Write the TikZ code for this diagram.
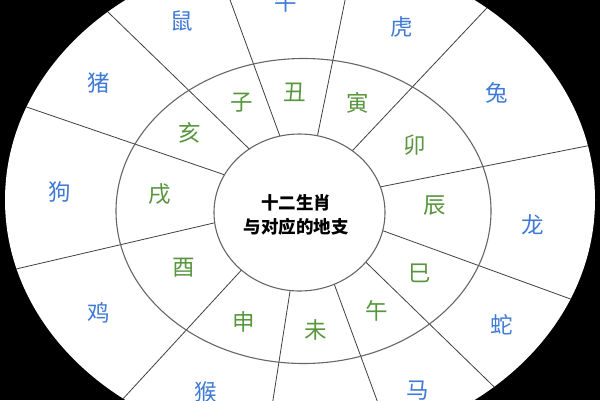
\documentclass[tikz,border=0pt]{standalone}
\usepackage{fontspec}
\newfontfamily\cjk{Noto Sans CJK SC}
\definecolor{zodblue}{RGB}{62,122,214}
\definecolor{zodgreen}{RGB}{88,150,62}
\begin{document}
\begin{tikzpicture}[x=1pt,y=-1pt,
    sign/.style={text=zodblue,font=\cjk\fontsize{22.5}{22.5}\selectfont,inner sep=0pt},
    branch/.style={text=zodgreen,font=\cjk\fontsize{22.5}{22.5}\selectfont,inner sep=0pt},
    spoke/.style={draw=black!75,line width=0.8pt},
    ring/.style={draw=black!60,line width=1.1pt}]
    \useasboundingbox (0,0) rectangle (600,400);
    \fill[black] (0,0) rectangle (600,400);
    \fill[white] (300,200) ellipse [x radius=295,y radius=248];
    \coordinate (hub) at (304,202);
    \begin{scope}
      \clip (300,200) ellipse [x radius=295,y radius=248];
      \foreach \a in {-110.1,-78.5,-46.7,-11.2,20,44.2,69.8,98.9,132.6,166.9,-161.1,-135.9}
        \draw[spoke] (hub) -- ++(\a:420);
    \end{scope}
    \draw[ring] (303.5,211) ellipse [x radius=187.5,y radius=152.5];
    \draw[ring,fill=white] (299.5,212.5) ellipse [x radius=85.5,y radius=78.5];
    % outer ring: animals
    \node[sign] (rat) at (182,21) {鼠};
    \node[sign] (ox) at (286,2) {牛};
    \node[sign] (tiger) at (402,27) {虎};
    \node[sign] (rabbit) at (497,93) {兔};
    \node[sign] (dragon) at (533,225) {龙};
    \node[sign] (snake) at (502,325) {蛇};
    \node[sign] (horse) at (418,391) {马};
    \node[sign] (monkey) at (206,392) {猴};
    \node[sign] (rooster) at (99,313) {鸡};
    \node[sign] (dog) at (60,192) {狗};
    \node[sign] (pig) at (99,83) {猪};
    % middle ring: earthly branches
    \node[branch] (zi) at (242,103) {子};
    \node[branch] (chou) at (295,92) {丑};
    \node[branch] (yin) at (358,103) {寅};
    \node[branch] (mao) at (415,145) {卯};
    \node[branch] (chen) at (435,206) {辰};
    \node[branch] (si) at (420,273) {巳};
    \node[branch] (wu) at (377,311) {午};
    \node[branch] (wei) at (316,330) {未};
    \node[branch] (shen) at (244,322) {申};
    \node[branch] (you) at (184,268) {酉};
    \node[branch] (xu) at (160,194) {戌};
    \node[branch] (hai) at (190,133) {亥};
    \node[font=\cjk\bfseries\fontsize{17.5}{24}\selectfont,align=center] (title) at (296,215) {十二生肖\\与对应的地支};
\end{tikzpicture}
\end{document}
